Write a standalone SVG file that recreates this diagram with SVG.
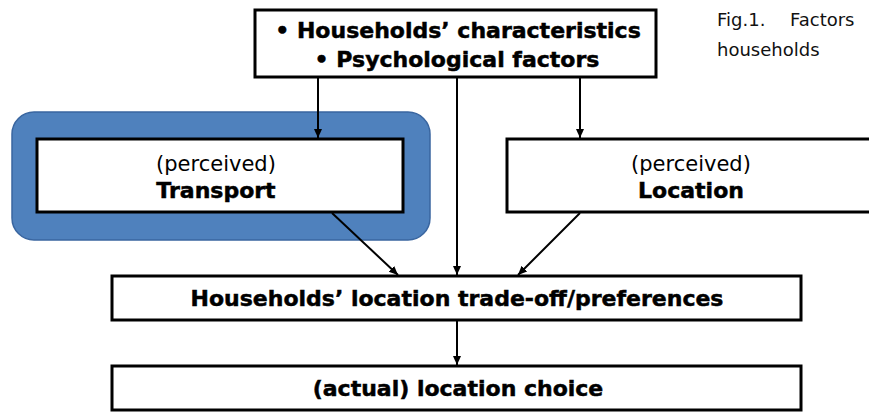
<svg xmlns="http://www.w3.org/2000/svg" width="869" height="412" viewBox="0 0 869 412">
<defs>
<marker id="ah" markerWidth="10" markerHeight="10" refX="9" refY="5" orient="auto" markerUnits="userSpaceOnUse">
<path d="M0,1 L9,5 L0,9 Z" fill="#000"/>
</marker>
<style>
.box{fill:#fff;stroke:#000;stroke-width:3}
.b{font-family:"DejaVu Sans","Liberation Sans",sans-serif;font-weight:bold;font-size:22px;fill:#000;stroke:#000;stroke-width:0.5;text-anchor:middle}
.r{font-family:"DejaVu Sans","Liberation Sans",sans-serif;font-size:21px;fill:#000;text-anchor:middle}
.cap{font-family:"DejaVu Sans","Liberation Sans",sans-serif;font-size:18px;fill:#111}
.c{stroke:#000;stroke-width:2;fill:none;marker-end:url(#ah)}
</style>
</defs>
<rect width="869" height="412" fill="#fff"/>
<g id="caption">
<text class="cap" x="717" y="26">Fig.1.<tspan x="790">Factors</tspan></text>
<text class="cap" x="717" y="56">households</text>
</g>
<g id="highlight">
<rect x="12" y="112" width="418" height="128" rx="22" fill="#4F81BD" stroke="#3A66A0" stroke-width="1.5"/>
</g>
<g id="factors">
<rect class="box" x="255" y="10" width="401" height="67"/>
<text class="b" x="458" y="38">• Households’ characteristics</text>
<text class="b" x="457" y="67">• Psychological factors</text>
</g>
<g id="transport">
<rect class="box" x="37" y="139" width="366" height="73"/>
<text class="r" x="216" y="171">(perceived)</text>
<text class="b" x="216" y="198">Transport</text>
</g>
<g id="location">
<rect class="box" x="507" y="139" width="370" height="73"/>
<text class="r" x="691" y="171">(perceived)</text>
<text class="b" x="691" y="198">Location</text>
</g>
<g id="tradeoff">
<rect class="box" x="112" y="276" width="689" height="44"/>
<text class="b" x="457" y="306">Households’ location trade-off/preferences</text>
</g>
<g id="choice">
<rect class="box" x="112" y="366" width="689" height="44"/>
<text class="b" x="458" y="396">(actual) location choice</text>
</g>
<g id="connectors">
<line class="c" x1="318" y1="78" x2="318" y2="138"/>
<line class="c" x1="457" y1="78" x2="457" y2="275"/>
<line class="c" x1="580" y1="78" x2="580" y2="138"/>
<line class="c" x1="332" y1="213" x2="398" y2="275"/>
<line class="c" x1="580" y1="213" x2="518" y2="275"/>
<line class="c" x1="457" y1="321" x2="457" y2="365"/>
</g>
</svg>
